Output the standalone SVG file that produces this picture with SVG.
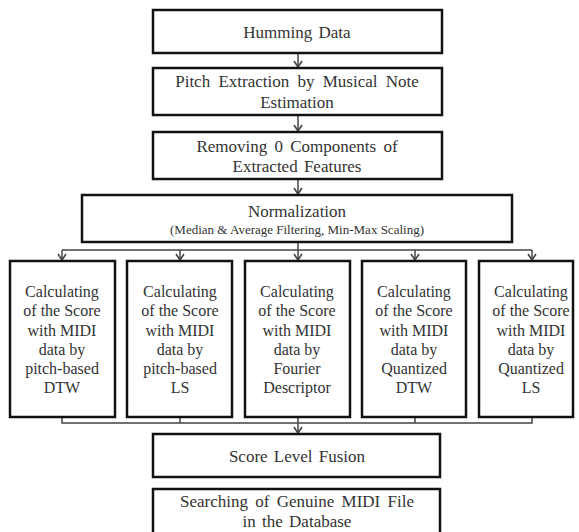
<svg xmlns="http://www.w3.org/2000/svg" width="579" height="532" viewBox="0 0 579 532">
<style>
  .box { fill: #fff; stroke: #111; stroke-width: 2.5; }
  .t { fill: #333; text-anchor: middle; }
  .big { font-size: 17px; }
  .mid { font-size: 16px; }
  .small { font-size: 13px; }
  .conn { fill: none; stroke: #444; stroke-width: 1.5; }
  .ah { fill: none; stroke: #444; stroke-width: 1.6; }
</style>
<rect width="579" height="532" fill="#fff"/>
<g id="connectors">
  <line class="conn" x1="298" y1="54" x2="298" y2="67"/>
  <line class="conn" x1="298" y1="116" x2="298" y2="131"/>
  <line class="conn" x1="298" y1="180" x2="298" y2="194"/>
  <line class="conn" x1="298" y1="243" x2="298" y2="260"/>
  <line class="conn" x1="62" y1="250" x2="532" y2="250"/>
  <line class="conn" x1="62" y1="250" x2="62" y2="260"/>
  <line class="conn" x1="180" y1="250" x2="180" y2="260"/>
  <line class="conn" x1="415" y1="250" x2="415" y2="260"/>
  <line class="conn" x1="532" y1="250" x2="532" y2="260"/>
  <polyline class="conn" points="62,418 62,423 532,423 532,418"/>
  <line class="conn" x1="180" y1="418" x2="180" y2="423"/>
  <line class="conn" x1="415" y1="418" x2="415" y2="423"/>
  <line class="conn" x1="298" y1="418" x2="298" y2="433"/>
  <path class="ah" d="M294,61 L298,67 L302,61"/>
  <path class="ah" d="M294,125 L298,131 L302,125"/>
  <path class="ah" d="M294,188 L298,194 L302,188"/>
  <path class="ah" d="M58,254 L62,260 L66,254"/>
  <path class="ah" d="M176,254 L180,260 L184,254"/>
  <path class="ah" d="M294,254 L298,260 L302,254"/>
  <path class="ah" d="M411,254 L415,260 L419,254"/>
  <path class="ah" d="M528,254 L532,260 L536,254"/>
  <path class="ah" d="M294,427 L298,433 L302,427"/>
</g>
<g id="humming">
  <rect class="box" x="153" y="10" width="289" height="43"/>
  <text class="t big" font-family="Liberation Serif, Times New Roman, DejaVu Serif, serif" x="297" y="38" word-spacing="2">Humming Data</text>
</g>
<g id="pitch">
  <rect class="box" x="153" y="68" width="289" height="47"/>
  <text class="t big" font-family="Liberation Serif, Times New Roman, DejaVu Serif, serif" x="297" y="87" word-spacing="4">Pitch Extraction by Musical Note</text>
  <text class="t big" font-family="Liberation Serif, Times New Roman, DejaVu Serif, serif" x="297" y="108">Estimation</text>
</g>
<g id="removing">
  <rect class="box" x="153" y="132" width="289" height="47"/>
  <text class="t big" font-family="Liberation Serif, Times New Roman, DejaVu Serif, serif" x="297" y="152" word-spacing="3">Removing 0 Components of</text>
  <text class="t big" font-family="Liberation Serif, Times New Roman, DejaVu Serif, serif" x="297" y="172" word-spacing="2">Extracted Features</text>
</g>
<g id="normalization">
  <rect class="box" x="82" y="195" width="430" height="47"/>
  <text class="t big" font-family="Liberation Serif, Times New Roman, DejaVu Serif, serif" x="297" y="217">Normalization</text>
  <text class="t small" font-family="Liberation Serif, Times New Roman, DejaVu Serif, serif" x="297" y="234">(Median &amp; Average Filtering, Min-Max Scaling)</text>
</g>
<g id="calc1">
  <rect class="box" x="10" y="261" width="105" height="156"/>
  <text class="t mid" font-family="Liberation Serif, Times New Roman, DejaVu Serif, serif" x="62" y="297">Calculating</text>
  <text class="t mid" font-family="Liberation Serif, Times New Roman, DejaVu Serif, serif" x="62" y="316">of the Score</text>
  <text class="t mid" font-family="Liberation Serif, Times New Roman, DejaVu Serif, serif" x="62" y="336">with MIDI</text>
  <text class="t mid" font-family="Liberation Serif, Times New Roman, DejaVu Serif, serif" x="62" y="355">data by</text>
  <text class="t mid" font-family="Liberation Serif, Times New Roman, DejaVu Serif, serif" x="62" y="374">pitch-based</text>
  <text class="t mid" font-family="Liberation Serif, Times New Roman, DejaVu Serif, serif" x="62" y="393">DTW</text>
</g>
<g id="calc2">
  <rect class="box" x="127" y="261" width="105" height="156"/>
  <text class="t mid" font-family="Liberation Serif, Times New Roman, DejaVu Serif, serif" x="180" y="297">Calculating</text>
  <text class="t mid" font-family="Liberation Serif, Times New Roman, DejaVu Serif, serif" x="180" y="316">of the Score</text>
  <text class="t mid" font-family="Liberation Serif, Times New Roman, DejaVu Serif, serif" x="180" y="336">with MIDI</text>
  <text class="t mid" font-family="Liberation Serif, Times New Roman, DejaVu Serif, serif" x="180" y="355">data by</text>
  <text class="t mid" font-family="Liberation Serif, Times New Roman, DejaVu Serif, serif" x="180" y="374">pitch-based</text>
  <text class="t mid" font-family="Liberation Serif, Times New Roman, DejaVu Serif, serif" x="180" y="393">LS</text>
</g>
<g id="calc3">
  <rect class="box" x="245" y="261" width="105" height="156"/>
  <text class="t mid" font-family="Liberation Serif, Times New Roman, DejaVu Serif, serif" x="297" y="297">Calculating</text>
  <text class="t mid" font-family="Liberation Serif, Times New Roman, DejaVu Serif, serif" x="297" y="316">of the Score</text>
  <text class="t mid" font-family="Liberation Serif, Times New Roman, DejaVu Serif, serif" x="297" y="336">with MIDI</text>
  <text class="t mid" font-family="Liberation Serif, Times New Roman, DejaVu Serif, serif" x="297" y="355">data by</text>
  <text class="t mid" font-family="Liberation Serif, Times New Roman, DejaVu Serif, serif" x="297" y="374">Fourier</text>
  <text class="t mid" font-family="Liberation Serif, Times New Roman, DejaVu Serif, serif" x="297" y="393">Descriptor</text>
</g>
<g id="calc4">
  <rect class="box" x="362" y="261" width="104" height="156"/>
  <text class="t mid" font-family="Liberation Serif, Times New Roman, DejaVu Serif, serif" x="414" y="297">Calculating</text>
  <text class="t mid" font-family="Liberation Serif, Times New Roman, DejaVu Serif, serif" x="414" y="316">of the Score</text>
  <text class="t mid" font-family="Liberation Serif, Times New Roman, DejaVu Serif, serif" x="414" y="336">with MIDI</text>
  <text class="t mid" font-family="Liberation Serif, Times New Roman, DejaVu Serif, serif" x="414" y="355">data by</text>
  <text class="t mid" font-family="Liberation Serif, Times New Roman, DejaVu Serif, serif" x="414" y="374">Quantized</text>
  <text class="t mid" font-family="Liberation Serif, Times New Roman, DejaVu Serif, serif" x="414" y="393">DTW</text>
</g>
<g id="calc5">
  <rect class="box" x="479" y="261" width="94" height="156"/>
  <text class="t mid" font-family="Liberation Serif, Times New Roman, DejaVu Serif, serif" x="531" y="297">Calculating</text>
  <text class="t mid" font-family="Liberation Serif, Times New Roman, DejaVu Serif, serif" x="531" y="316">of the Score</text>
  <text class="t mid" font-family="Liberation Serif, Times New Roman, DejaVu Serif, serif" x="531" y="336">with MIDI</text>
  <text class="t mid" font-family="Liberation Serif, Times New Roman, DejaVu Serif, serif" x="531" y="355">data by</text>
  <text class="t mid" font-family="Liberation Serif, Times New Roman, DejaVu Serif, serif" x="531" y="374">Quantized</text>
  <text class="t mid" font-family="Liberation Serif, Times New Roman, DejaVu Serif, serif" x="531" y="393">LS</text>
</g>
<g id="fusion">
  <rect class="box" x="153" y="434" width="287" height="43"/>
  <text class="t big" font-family="Liberation Serif, Times New Roman, DejaVu Serif, serif" x="297" y="462" word-spacing="2">Score Level Fusion</text>
</g>
<g id="searching">
  <rect class="box" x="153" y="489" width="287" height="48"/>
  <text class="t big" font-family="Liberation Serif, Times New Roman, DejaVu Serif, serif" x="297" y="507" word-spacing="3">Searching of Genuine MIDI File</text>
  <text class="t big" font-family="Liberation Serif, Times New Roman, DejaVu Serif, serif" x="297" y="527" word-spacing="2">in the Database</text>
</g>
</svg>
